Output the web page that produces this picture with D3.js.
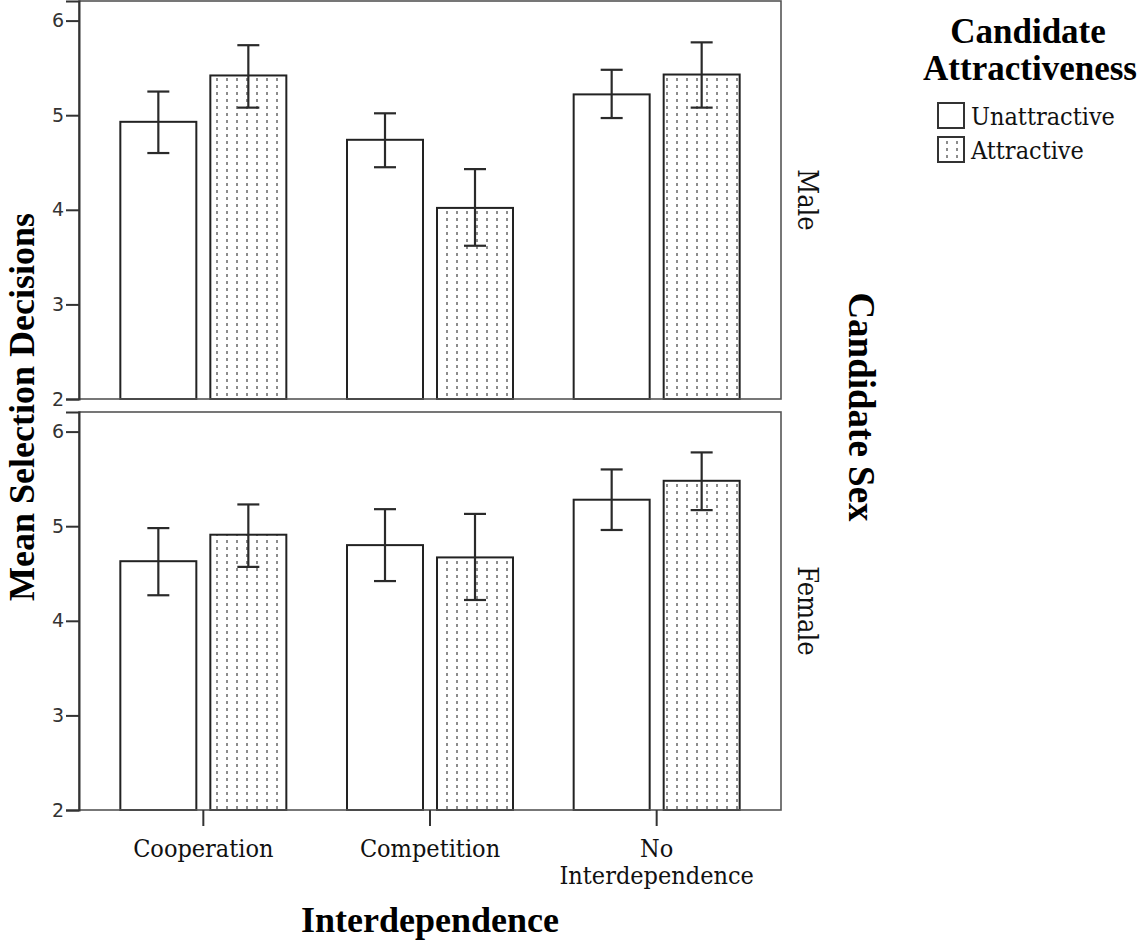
<!DOCTYPE html>
<html><head><meta charset="utf-8">
<script src="https://cdn.jsdelivr.net/npm/d3@7"></script>
<style>
body{margin:0;background:#fff;}
svg{display:block;}
.serif{font-family:"DejaVu Serif Condensed","DejaVu Serif",serif;font-stretch:condensed;}
.title{font-family:"Liberation Serif","Times New Roman",serif;font-weight:bold;}
</style></head>
<body>
<script>
const categories = ["Cooperation", "Competition", "No Interdependence"];
const groups = ["Unattractive", "Attractive"];
const panels = ["Male", "Female"];
// mean values [category][group]
const maleMeans = [[4.93, 5.42], [4.74, 4.02], [5.22, 5.43]];
const maleLow = [[4.60, 5.08], [4.45, 3.62], [4.97, 5.08]];
const maleHigh = [[5.25, 5.74], [5.02, 4.43], [5.48, 5.77]];
const femaleMeans = [[4.63, 4.91], [4.80, 4.67], [5.28, 5.48]];
const femaleLow = [[4.27, 4.57], [4.42, 4.22], [4.96, 5.17]];
const femaleHigh = [[4.98, 5.23], [5.18, 5.13], [5.60, 5.78]];
const yTicks = [2, 3, 4, 5, 6];

const W = 1142, H = 944;
const svg = d3.select("body").append("svg").attr("width", W).attr("height", H);

const defs = svg.append("defs");
const pat = defs.append("pattern").attr("id", "dots").attr("patternUnits", "userSpaceOnUse")
  .attr("width", 10).attr("height", 7).attr("x", 2);
pat.append("rect").attr("width", 10).attr("height", 7).attr("fill", "#fff");
pat.append("line").attr("x1", 5).attr("x2", 5).attr("y1", 1).attr("y2", 4)
  .attr("stroke", "#666").attr("stroke-width", 1.5);

const left = 79, right = 781;
const x = d3.scaleBand().domain(categories).range([90, 770]).paddingInner(0);
const xs = d3.scaleBand().domain(groups).range([-83, 83]).paddingInner(14 / 90);

const panelData = [
  {name: panels[0], means: maleMeans, low: maleLow, high: maleHigh, top: 1, bottom: 399},
  {name: panels[1], means: femaleMeans, low: femaleLow, high: femaleHigh, top: 412, bottom: 810}
];

panelData.forEach((p, pi) => {
  const y = d3.scaleLinear().domain([2, 2 + (p.bottom - p.top) / 94.6]).range([p.bottom, p.top]);
  const g = svg.append("g");
  const rows = [];
  categories.forEach((c, ci) => groups.forEach((gr, gi) => rows.push({c, gr, gi, m: p.means[ci][gi], lo: p.low[ci][gi], hi: p.high[ci][gi]})));
  const cx = d => x(d.c) + x.bandwidth() / 2;
  g.selectAll("rect.bar").data(rows).join("rect")
    .attr("x", d => cx(d) + xs(d.gr))
    .attr("width", xs.bandwidth())
    .attr("y", d => y(d.m))
    .attr("height", d => y(2) - y(d.m))
    .attr("fill", d => d.gi === 0 ? "#fff" : "url(#dots)")
    .attr("stroke", "#222").attr("stroke-width", 2);
  const ex = d => cx(d) + xs(d.gr) + xs.bandwidth() / 2;
  g.selectAll("line.err").data(rows).join("line")
    .attr("x1", ex).attr("x2", ex).attr("y1", d => y(d.lo)).attr("y2", d => y(d.hi))
    .attr("stroke", "#2a2a2a").attr("stroke-width", 2.2);
  ["lo", "hi"].forEach(k => {
    g.selectAll("line.cap" + k).data(rows).join("line")
      .attr("x1", d => ex(d) - 11).attr("x2", d => ex(d) + 11)
      .attr("y1", d => y(d[k])).attr("y2", d => y(d[k]))
      .attr("stroke", "#2a2a2a").attr("stroke-width", 2.2);
  });
  g.append("rect").attr("x", left).attr("y", p.top).attr("width", right - left).attr("height", p.bottom - p.top)
    .attr("fill", "none").attr("stroke", "#555").attr("stroke-width", 1.6);
  const ya = g.append("g").attr("transform", `translate(${left},0)`)
    .call(d3.axisLeft(y).tickValues(yTicks).tickSize(13).tickPadding(2).tickFormat(d3.format("d")));
  ya.select(".domain").attr("stroke", "#333").attr("stroke-width", 2);
  ya.selectAll(".tick line").attr("stroke", "#333").attr("stroke-width", 2);
  ya.selectAll(".tick text").attr("font-family", "DejaVu Sans, sans-serif").attr("font-size", 19).attr("fill", "#333");
  const my = (p.top + p.bottom) / 2;
  g.append("text").attr("class", "serif").attr("transform", `translate(${798},${my}) rotate(90)`)
    .attr("text-anchor", "middle").attr("font-size", 27).attr("fill", "#111").text(p.name);
  if (pi === 1) {
    const xa = g.append("g").attr("transform", `translate(0,${p.bottom})`)
      .call(d3.axisBottom(x).tickSize(16).tickPadding(4).tickFormat(""));
    xa.select(".domain").remove();
    xa.selectAll(".tick line").attr("stroke", "#333").attr("stroke-width", 2);
    xa.selectAll(".tick").each(function(d) {
      const words = d === "No Interdependence" ? ["No", "Interdependence"] : [d];
      const t = d3.select(this).append("text").attr("class", "serif").attr("fill", "#111")
        .attr("font-size", 25).attr("text-anchor", "middle");
      words.forEach((w, i) => t.append("tspan").attr("x", 0).attr("y", 47 + i * 27).text(w));
    });
  }
});

svg.append("text").attr("class", "title").attr("transform", "translate(34,407) rotate(-90)")
  .attr("text-anchor", "middle").attr("font-size", 36).text("Mean Selection Decisions");
svg.append("text").attr("class", "title").attr("x", 430).attr("y", 932)
  .attr("text-anchor", "middle").attr("font-size", 36).text("Interdependence");
svg.append("text").attr("class", "title").attr("transform", "translate(849,407) rotate(90)")
  .attr("text-anchor", "middle").attr("font-size", 37).text("Candidate Sex");

const lg = svg.append("g");
lg.append("text").attr("class", "title").attr("x", 1028).attr("y", 43).attr("text-anchor", "middle")
  .attr("font-size", 35).text("Candidate");
lg.append("text").attr("class", "title").attr("x", 1030).attr("y", 80).attr("text-anchor", "middle")
  .attr("font-size", 35).text("Attractiveness");
groups.forEach((gr, i) => {
  const yy = 103 + i * 34;
  lg.append("rect").attr("x", 938).attr("y", yy).attr("width", 26).attr("height", 25)
    .attr("fill", i === 0 ? "#fff" : "url(#dots)").attr("stroke", "#333").attr("stroke-width", 2);
  lg.append("text").attr("class", "serif").attr("x", 971).attr("y", yy + 22).attr("font-size", 25)
    .attr("fill", "#111").text(gr);
});
</script>
</body></html>
